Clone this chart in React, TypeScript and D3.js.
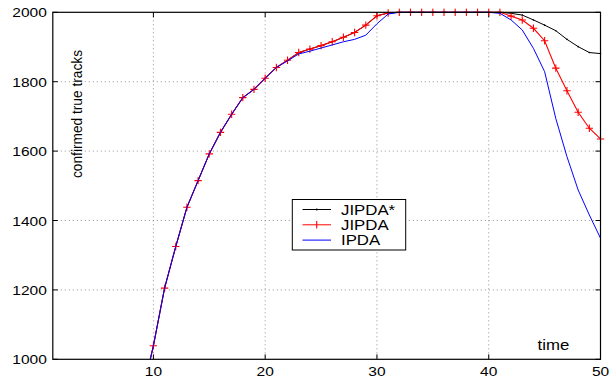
import React, { useEffect, useRef } from 'react';
import * as d3 from 'd3';

const times = [9, 10, 11, 12, 13, 14, 15, 16, 17, 18, 19, 20, 21, 22, 23, 24, 25, 26, 27, 28, 29,
  30, 31, 32, 33, 34, 35, 36, 37, 38, 39, 40, 41, 42, 43, 44, 45, 46, 47, 48, 49, 50];

const jipdaStar = [900, 1039, 1205, 1325, 1438, 1515, 1592, 1654, 1706, 1754, 1778, 1810, 1841, 1862,
  1884, 1894, 1904, 1915, 1928, 1942, 1963, 1990, 1998, 2000, 2000, 2000, 2000, 2000, 2000, 2000,
  2000, 2000, 2000, 1997, 1992, 1978, 1963, 1947, 1922, 1901, 1884, 1881];

const jipda = [900, 1039, 1205, 1325, 1438, 1515, 1592, 1654, 1706, 1754, 1778, 1810, 1841, 1862,
  1884, 1894, 1904, 1915, 1928, 1942, 1963, 1990, 1998, 2000, 2000, 2000, 2000, 2000, 2000, 2000,
  2000, 2000, 2000, 1989, 1978, 1954, 1918, 1839, 1774, 1712, 1666, 1635];

const ipda = [900, 1039, 1205, 1325, 1438, 1515, 1592, 1654, 1706, 1754, 1778, 1810, 1841, 1860,
  1880, 1888, 1897, 1906, 1915, 1922, 1934, 1967, 1995, 2000, 2000, 2000, 2000, 2000, 2000, 2000,
  2000, 2000, 1997, 1978, 1949, 1896, 1829, 1694, 1584, 1488, 1416, 1349];

const xTicks = [10, 20, 30, 40, 50];
const yTicks = [1000, 1200, 1400, 1600, 1800, 2000];
const legendLabels = ['JIPDA*', 'JIPDA', 'IPDA'];

const App = () => {
  const ref = useRef<SVGSVGElement>(null);
  const width = 615;
  const height = 378;

  useEffect(() => {
    const svg = d3.select(ref.current);
    svg.selectAll('*').remove();

    const left = 52.8, right = 600.5, top = 12.3, bottom = 359.3;
    const font = 'Liberation Sans, Arial, sans-serif';

    const x = d3.scaleLinear().domain([1, 50]).range([left, right]);
    const y = d3.scaleLinear().domain([1000, 2000]).range([bottom, top]);

    svg.append('rect').attr('width', width).attr('height', height).attr('fill', '#fff');

    svg.append('clipPath').attr('id', 'plot-clip')
      .append('rect')
      .attr('x', left).attr('y', top - 4)
      .attr('width', right - left + 6).attr('height', bottom - top + 4);

    // grid
    const grid = svg.append('g')
      .attr('stroke', '#777')
      .attr('stroke-width', 0.8)
      .attr('stroke-dasharray', '1,3');
    grid.selectAll('.gx').data(xTicks.filter(d => d < 50)).enter().append('line')
      .attr('x1', d => x(d)).attr('x2', d => x(d))
      .attr('y1', top).attr('y2', bottom);
    grid.selectAll('.gy').data(yTicks.filter(d => d > 1000 && d < 2000)).enter().append('line')
      .attr('x1', left).attr('x2', right)
      .attr('y1', d => y(d)).attr('y2', d => y(d));

    // inward ticks
    const ticks = svg.append('g').attr('stroke', '#000').attr('stroke-width', 1);
    xTicks.forEach(t => {
      ticks.append('line').attr('x1', x(t)).attr('x2', x(t)).attr('y1', bottom).attr('y2', bottom - 5);
      ticks.append('line').attr('x1', x(t)).attr('x2', x(t)).attr('y1', top).attr('y2', top + 5);
    });
    yTicks.forEach(t => {
      ticks.append('line').attr('x1', left).attr('x2', left + 5).attr('y1', y(t)).attr('y2', y(t));
      ticks.append('line').attr('x1', right).attr('x2', right - 5).attr('y1', y(t)).attr('y2', y(t));
    });

    // tick labels
    svg.append('g').selectAll('text').data(xTicks).enter().append('text')
      .attr('transform', d => `translate(${x(d)},${bottom + 17}) scale(1.15,1)`)
      .attr('text-anchor', 'middle')
      .attr('font-family', font).attr('font-size', 13.5)
      .text(d => d);
    svg.append('g').selectAll('text').data(yTicks).enter().append('text')
      .attr('transform', d => `translate(${left - 6},${y(d) + 5}) scale(1.15,1)`)
      .attr('text-anchor', 'end')
      .attr('font-family', font).attr('font-size', 13.5)
      .text(d => d);

    // axis labels
    svg.append('text')
      .attr('transform', `translate(${82},${178}) rotate(-90)`)
      .attr('font-family', font).attr('font-size', 14)
      .attr('textLength', 128).attr('lengthAdjust', 'spacingAndGlyphs')
      .text('confirmed true tracks');
    svg.append('text')
      .attr('transform', 'translate(537.5,350) scale(1.2,1)')
      .attr('font-family', font).attr('font-size', 14)
      .text('time');

    // curves
    const plot = svg.append('g').attr('clip-path', 'url(#plot-clip)');
    const line = d3.line<number>().x((_, i) => x(times[i])).y(d => y(d));

    plot.append('path').datum(jipdaStar)
      .attr('d', line).attr('fill', 'none').attr('stroke', '#000').attr('stroke-width', 1);
    plot.selectAll('.dot').data(jipdaStar).enter().append('circle')
      .attr('cx', (_, i) => x(times[i])).attr('cy', d => y(d)).attr('r', 0.8).attr('fill', '#000');

    plot.append('path').datum(jipda)
      .attr('d', line).attr('fill', 'none').attr('stroke', '#f00').attr('stroke-width', 1.1);
    const plus = plot.append('g').attr('stroke', '#f00').attr('stroke-width', 1.1);
    jipda.forEach((d, i) => {
      const cx = x(times[i]), cy = y(d);
      plus.append('line').attr('x1', cx - 3.7).attr('x2', cx + 3.7).attr('y1', cy).attr('y2', cy);
      plus.append('line').attr('x1', cx).attr('x2', cx).attr('y1', cy - 3.7).attr('y2', cy + 3.7);
    });

    plot.append('path').datum(ipda)
      .attr('d', line).attr('fill', 'none').attr('stroke', '#00f').attr('stroke-width', 1);

    // frame
    svg.append('rect')
      .attr('x', left).attr('y', top)
      .attr('width', right - left).attr('height', bottom - top)
      .attr('fill', 'none').attr('stroke', '#000').attr('stroke-width', 1.2);

    // legend
    const lg = svg.append('g');
    lg.append('rect')
      .attr('x', 292.3).attr('y', 199.5).attr('width', 113.4).attr('height', 50.5)
      .attr('fill', '#fff').attr('stroke', '#000').attr('stroke-width', 1);
    const colors = ['#000', '#f00', '#00f'];
    legendLabels.forEach((label, i) => {
      const ly = 209.5 + i * 15.3;
      lg.append('line').attr('x1', 302.5).attr('x2', 331).attr('y1', ly).attr('y2', ly)
        .attr('stroke', colors[i]).attr('stroke-width', 1);
      if (i === 0) {
        lg.append('circle').attr('cx', 316.7).attr('cy', ly).attr('r', 1).attr('fill', '#000');
      }
      if (i === 1) {
        lg.append('line').attr('x1', 316.7).attr('x2', 316.7).attr('y1', ly - 3.7).attr('y2', ly + 3.7)
          .attr('stroke', '#f00').attr('stroke-width', 1.1);
      }
      lg.append('text')
        .attr('transform', `translate(341,${ly + 5}) scale(1.2,1)`)
        .attr('font-family', font).attr('font-size', 14)
        .text(label);
    });
  }, []);

  return (
    <svg
      ref={ref}
      width={width}
      height={height}
      viewBox={`0 0 ${width} ${height}`}
      style={{ position: 'absolute', left: 0, top: 0, display: 'block' }}
    />
  );
};

export default App;
